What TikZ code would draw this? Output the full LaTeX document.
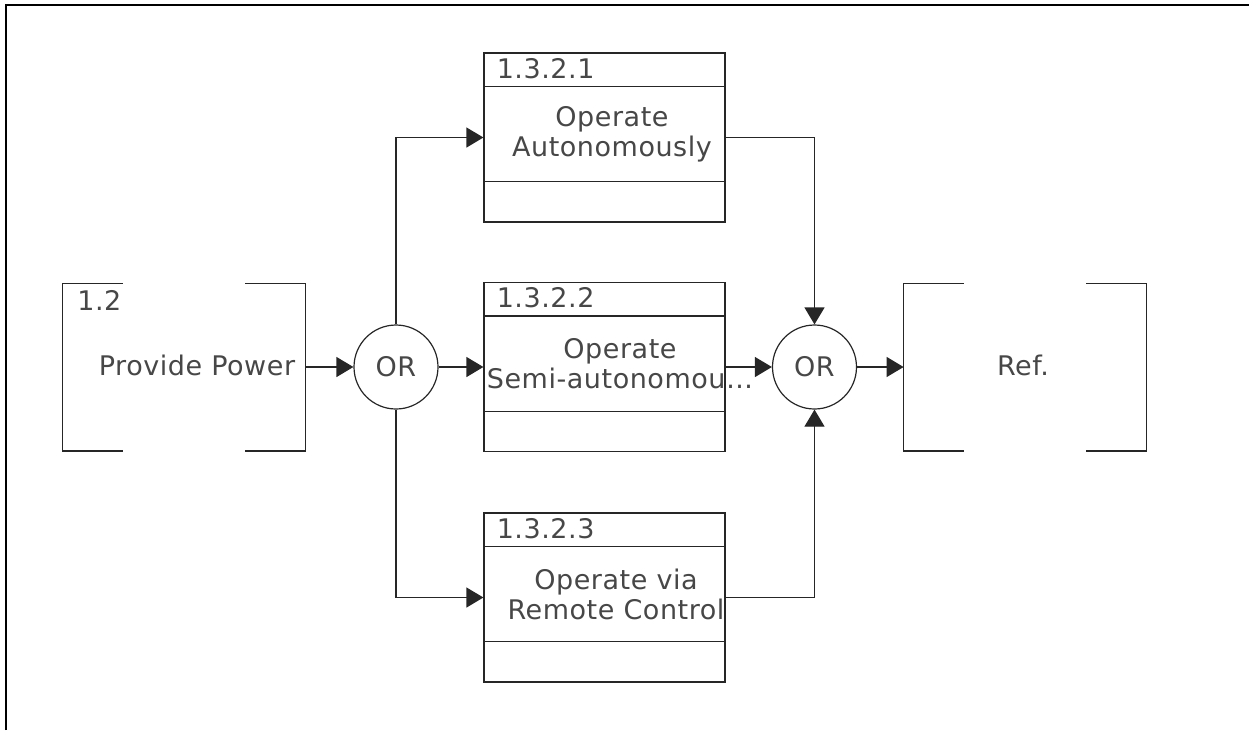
\documentclass[tikz,border=0pt]{standalone}
\usepackage{fontspec}
\setmainfont[LetterSpace=2]{DejaVu Sans}
\usetikzlibrary{arrows.meta,positioning,calc}

\tikzset{
  funcbox/.style={draw=black!85, line width=0.6pt, rectangle, minimum width=120.5pt, minimum height=84.5pt, inner sep=0pt},
  refbox/.style={rectangle, minimum width=121pt, minimum height=83.5pt, inner sep=0pt},
  orgate/.style={draw=black!85, line width=0.6pt, circle, minimum size=42pt, inner sep=0pt},
  lbl/.style={text=black!72, inner sep=0pt, font=\fontsize{13.5}{15}\selectfont},
  flow/.style={draw=black!85, line width=0.6pt, -{Triangle[length=8.5pt,width=10pt]}},
  bracket/.style={draw=black!85, line width=0.6pt}
}

\begin{document}
\begin{tikzpicture}[x=0.5pt, y=-0.5pt]
        \useasboundingbox (0,0) rectangle (1249,730);
        % Frame
        \draw[line width=1pt] (6,730) -- (6,5) -- (1249,5);

        % External reference boxes
        \node[refbox] (pwr) at (184,367) {};
        \node[refbox] (ref) at (1025,367) {};
        \foreach \b in {pwr,ref} {
            \draw[bracket] ([xshift=30pt]\b.north west) -- (\b.north west) -- (\b.south west) -- ([xshift=30pt]\b.south west);
            \draw[bracket] ([xshift=-30pt]\b.north east) -- (\b.north east) -- (\b.south east) -- ([xshift=-30pt]\b.south east);
        }
        \node[lbl, anchor=west] (pwrnum) at (77,300) {1.2};
        \node[lbl] (pwrtxt) at (197,365) {Provide Power};
        \node[lbl] (reftxt) at (1023,365) {Ref.};

        % Function boxes
        \node[funcbox] (opa) at (604.5,137.5) {};
        \node[funcbox] (ops) at (604.5,367) {};
        \node[funcbox] (opr) at (604.5,597.5) {};
        \foreach \b in {opa,ops,opr} {
            \draw[bracket] ([yshift=-17pt]\b.north west) -- ([yshift=-17pt]\b.north east);
            \draw[bracket] ([yshift=20.5pt]\b.south west) -- ([yshift=20.5pt]\b.south east);
        }
        \node[lbl, anchor=west] (opanum) at ([xshift=6.5pt,yshift=-8pt]opa.north west) {1.3.2.1};
        \node[lbl, anchor=west] (opsnum) at ([xshift=6.5pt,yshift=-8pt]ops.north west) {1.3.2.2};
        \node[lbl, anchor=west] (oprnum) at ([xshift=6.5pt,yshift=-8pt]opr.north west) {1.3.2.3};
        \node[lbl, align=center] (opatxt) at (612,134) {Operate\\Autonomously};
        \node[lbl, align=center] (opstxt) at (620,364) {Operate\\Semi-autonomou\ldots};
        \node[lbl, align=center] (oprtxt) at (616,594) {Operate via\\Remote Control};

        % OR junctions
        \node[orgate, lbl] (or1) at (396,367) {OR};
        \node[orgate, lbl] (or2) at (814.5,367) {OR};

        % Connectors
        \draw[flow] (pwr) -- (or1);
        \draw[flow] (or1) |- (opa);
        \draw[flow] (or1) -- (ops);
        \draw[flow] (or1) |- (opr);
        \draw[flow] (opa) -| (or2);
        \draw[flow] (ops) -- (or2);
        \draw[flow] (opr) -| (or2);
        \draw[flow] (or2) -- (ref);
\end{tikzpicture}
\end{document}
